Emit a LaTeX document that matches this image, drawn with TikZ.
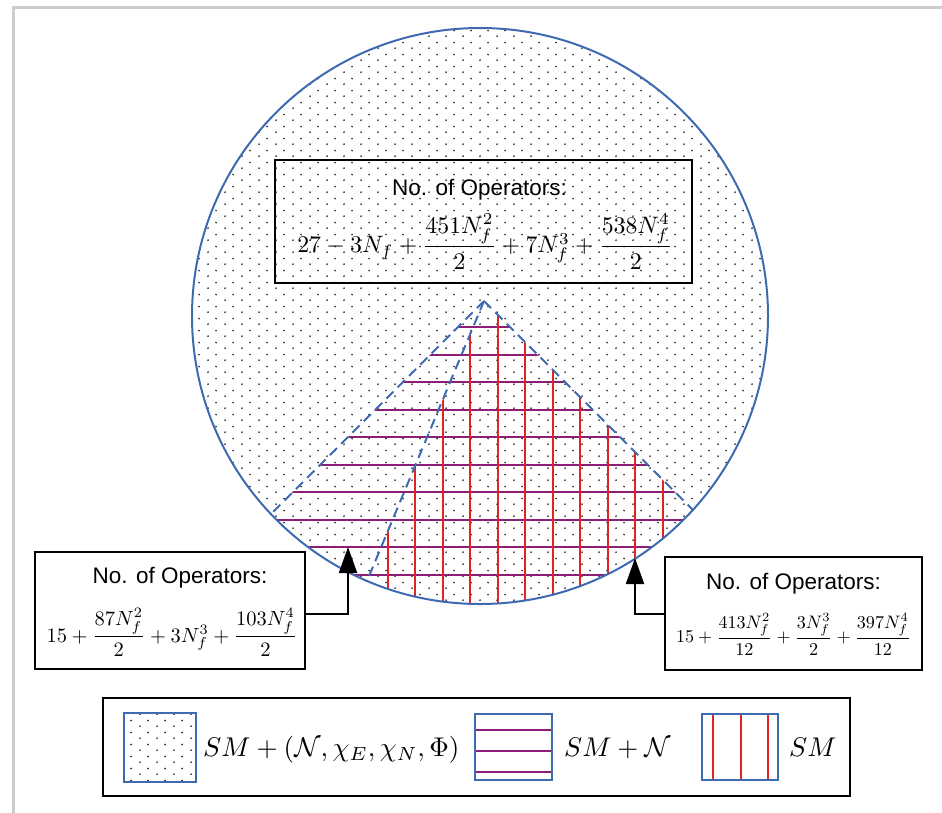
\documentclass[tikz,border=0pt]{standalone}
\usepackage{amsmath}
\usepackage{graphicx}
\usepackage{fontspec}
\newfontfamily\titlefont{Liberation Sans}
\usetikzlibrary{arrows.meta,patterns}
\definecolor{cblue}{RGB}{62,106,178}
\definecolor{cpurple}{RGB}{140,30,120}
\definecolor{cred}{RGB}{225,35,35}
\definecolor{cframe}{RGB}{204,204,204}
\definecolor{dotgray}{RGB}{40,40,40}
\pgfdeclarepatternformonly{sparsedots}{\pgfqpoint{0pt}{0pt}}{\pgfqpoint{17pt}{11.6pt}}{\pgfqpoint{17pt}{11.6pt}}{%
  \pgfpathcircle{\pgfqpoint{4.25pt}{2.9pt}}{1pt}%
  \pgfpathcircle{\pgfqpoint{12.75pt}{8.7pt}}{1pt}%
  \pgfusepath{fill}}
\tikzset{
  opbox/.style={draw=black, line width=1.5pt, inner sep=0pt},
  titletext/.style={font=\titlefont\fontsize{22.5}{27}\selectfont, inner sep=0pt},
  hline/.style={cpurple, line width=2pt},
  vline/.style={cred, line width=2pt},
  conedash/.style={cblue, line width=2pt, dash pattern=on 10pt off 6pt},
  pointer/.style={line width=2pt, -{Triangle[width=18pt,length=26pt]}},
  legsq/.style={draw=cblue, line width=1.8pt, inner sep=0pt},
  legtext/.style={inner sep=0pt, anchor=base west}
}
\begin{document}
\begin{tikzpicture}[x=1pt,y=-1pt]
\useasboundingbox (0,0) rectangle (942,812);
% outer frame
\draw[cframe, line width=3pt] (13,815) -- (13,7) -- (945,7);
% circle with dots
\node[circle, minimum size=576pt, inner sep=0pt, pattern=sparsedots, pattern color=dotgray] (circ) at (480,316) {};
\coordinate (apex) at (484,301);
% horizontal lines (SM + N)
\begin{scope}
  \clip (480,316) circle[radius=288];
  \clip (apex) -- ++(-400,400) -- ++(800,0) -- cycle;
  \foreach \k in {0,...,9} \draw[hline] (150,327.2+27.5*\k) -- (820,327.2+27.5*\k);
\end{scope}
% vertical lines (SM)
\begin{scope}
  \clip (480,316) circle[radius=288];
  \clip (apex) -- ++(-167.2,400) -- ++(567.2,0) -- cycle;
  \foreach \k in {0,...,10} \draw[vline] (387.7+27.5*\k,250) -- ++(0,420);
\end{scope}
% dashed cone borders
\begin{scope}
  \clip (480,316) circle[radius=288];
  \draw[conedash] (apex) -- ++(-320,320);
  \draw[conedash] (apex) -- ++(320,320);
  \draw[conedash] (apex) -- ++(-167.2,400);
\end{scope}
\node[circle, minimum size=576pt, inner sep=0pt, draw=cblue, line width=2pt] (circb) at (480,316) {};
% top box
\node[opbox, minimum width=417pt, minimum height=123pt] (topbox) at (483.5,221.5) {};
\node[titletext] (toptitle) at (479.5,190) {No. of Operators:};
\node[anchor=base, inner sep=0pt] (topmath) at (485,252.7)
  {\scalebox{2.38}{$27-3N_f+\dfrac{451N_f^2}{2}+7N_f^3+\dfrac{538N_f^4}{2}$}};
% left box
\node[opbox, minimum width=270pt, minimum height=117pt] (leftbox) at (170,610.5) {};
\node[titletext] (lefttitle) at (180,578) {No. of Operators:};
\node[anchor=base, inner sep=0pt] (leftmath) at (172,642)
  {\scalebox{2.05}{$15+\dfrac{87N_f^2}{2}+3N_f^3+\dfrac{103N_f^4}{2}$}};
% right box
\node[opbox, minimum width=257pt, minimum height=113pt] (rightbox) at (793.5,613.5) {};
\node[titletext] (righttitle) at (793.5,583.3) {No. of Operators:};
\node[anchor=base, inner sep=0pt] (rightmath) at (793.5,642.7)
  {\scalebox{1.81}{$15+\dfrac{413N_f^2}{12}+\dfrac{3N_f^3}{2}+\dfrac{397N_f^4}{12}$}};
% pointers
\coordinate (ltip) at (348,547);
\coordinate (rtip) at (635,558);
\draw[pointer] ([yshift=-3.5pt]leftbox.east) -| (ltip);
\draw[pointer] ([yshift=-0.5pt]rightbox.west) -| (rtip);
% legend
\node[opbox, minimum width=747pt, minimum height=98pt] (legend) at (476.5,747) {};
\node[legsq, minimum width=72pt, minimum height=68.5pt, pattern=sparsedots, pattern color=dotgray] (lg1) at (160,747.5) {};
\node[legsq, minimum width=76.7pt, minimum height=65.7pt] (lg2) at (513.3,747.2) {};
\foreach \yy in {730,751,772.3} \draw[hline] (lg2.west |- 0,\yy) -- (lg2.east |- 0,\yy);
\node[legsq, minimum width=76.6pt, minimum height=65.7pt] (lg3) at (740,747.2) {};
\foreach \xx in {712.7,740.7,768.3} \draw[vline] (lg3.north -| \xx,0) -- (lg3.south -| \xx,0);
\node[legsq, minimum width=76.7pt, minimum height=65.7pt] (lg2b) at (513.3,747.2) {};
\node[legsq, minimum width=76.6pt, minimum height=65.7pt] (lg3b) at (740,747.2) {};
\node[legtext] (lt1) at (203,756) {\scalebox{2.71}{$SM+(\mathcal{N},\chi_E,\chi_N,\Phi)$}};
\node[legtext] (lt2) at (564,756) {\scalebox{2.7}{$SM+\mathcal{N}$}};
\node[legtext] (lt3) at (789,756) {\scalebox{2.7}{$SM$}};
\end{tikzpicture}
\end{document}
